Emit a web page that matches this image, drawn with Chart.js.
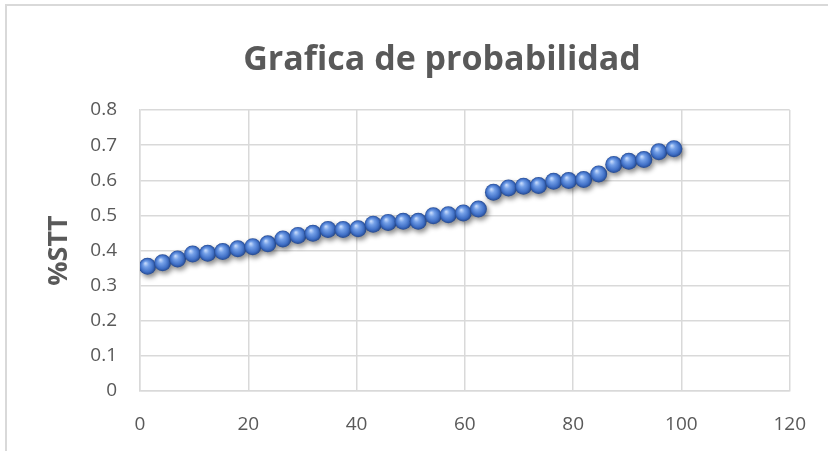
<!DOCTYPE html>
<html>
<head>
<meta charset="utf-8">
<script src="https://cdn.jsdelivr.net/npm/chart.js@4/dist/chart.umd.min.js"></script>
<style>
  html, body { margin: 0; padding: 0; background: #ffffff; }
  #wrap { position: relative; width: 828px; height: 451px; }
</style>
</head>
<body>
<div id="wrap"><canvas id="chart" width="828" height="451"></canvas></div>
<script>
// Plotting positions (%) and measured %STT values
const percentiles = [1.39, 4.17, 6.94, 9.72, 12.50, 15.28, 18.06, 20.83, 23.61, 26.39,
                     29.17, 31.94, 34.72, 37.50, 40.28, 43.06, 45.83, 48.61, 51.39, 54.17,
                     56.94, 59.72, 62.50, 65.28, 68.06, 70.83, 73.61, 76.39, 79.17, 81.94,
                     84.72, 87.50, 90.28, 93.06, 95.83, 98.61];
const sttValues = [0.355, 0.365, 0.376, 0.390, 0.392, 0.397, 0.405, 0.411, 0.419, 0.433,
                   0.443, 0.449, 0.460, 0.460, 0.462, 0.475, 0.480, 0.483, 0.483, 0.499,
                   0.502, 0.507, 0.518, 0.566, 0.578, 0.583, 0.585, 0.597, 0.599, 0.602,
                   0.618, 0.645, 0.654, 0.659, 0.681, 0.690];
const xTicks = [0, 20, 40, 60, 80, 100, 120];
const yTicks = [0, 0.1, 0.2, 0.3, 0.4, 0.5, 0.6, 0.7, 0.8];

const titleText = 'Grafica de probabilidad';
const yTitleText = '%STT';
const FONT = '"Open Sans", Lato, sans-serif';
const TEXT = '#595959';
const GRID = '#d9d9d9';

const points = percentiles.map((p, i) => ({ x: p, y: sttValues[i] }));

// Shaded sphere fill for each marker
function sphereFill(ctx) {
  if (ctx.type !== 'data' || !ctx.parsed) return '#4472c4';
  const chart = ctx.chart;
  const sx = chart.scales.x, sy = chart.scales.y;
  if (!sx || !sy) return '#4472c4';
  const cx = sx.getPixelForValue(ctx.parsed.x);
  const cy = sy.getPixelForValue(ctx.parsed.y);
  if (!isFinite(cx) || !isFinite(cy)) return '#4472c4';
  const r = 8.5;
  const g = chart.ctx.createRadialGradient(cx - r * 0.25, cy - r * 0.35, 0.5, cx, cy, r);
  g.addColorStop(0, '#c0d6fa');
  g.addColorStop(0.3, '#74a0e8');
  g.addColorStop(0.75, '#3f6fc6');
  g.addColorStop(1, '#25498f');
  return g;
}

const decor = {
  id: 'decor',
  beforeDraw(chart) {
    const c = chart.ctx;
    c.save();
    c.fillStyle = '#ffffff';
    c.fillRect(0, 0, chart.width, chart.height);
    c.strokeStyle = GRID;
    c.lineWidth = 2;
    c.beginPath();
    c.moveTo(6, chart.height);
    c.lineTo(6, 5);
    c.lineTo(chart.width, 5);
    c.stroke();
    c.restore();
  },
  afterDraw(chart) {
    const c = chart.ctx;
    c.save();
    c.fillStyle = TEXT;
    c.font = 'bold 34px ' + FONT;
    c.textAlign = 'center';
    c.textBaseline = 'alphabetic';
    c.fillText(titleText, 442, 70);
    c.restore();
  },
  beforeDatasetsDraw(chart) {
    const c = chart.ctx;
    c.save();
    c.shadowColor = 'rgba(0,0,0,0.45)';
    c.shadowBlur = 5;
    c.shadowOffsetX = 2;
    c.shadowOffsetY = 3;
  },
  afterDatasetsDraw(chart) {
    chart.ctx.restore();
  }
};

new Chart(document.getElementById('chart'), {
  type: 'scatter',
  data: {
    datasets: [{
      data: points,
      pointRadius: 8.5,
      pointHoverRadius: 8.5,
      pointBorderWidth: 0,
      borderWidth: 0,
      backgroundColor: sphereFill,
      pointBackgroundColor: sphereFill
    }]
  },
  plugins: [decor],
  options: {
    responsive: false,
    animation: false,
    devicePixelRatio: 1,
    layout: { padding: { left: 0, right: 29, top: 110, bottom: 0 } },
    plugins: {
      legend: { display: false },
      tooltip: { enabled: false },
      title: { display: false }
    },
    scales: {
      x: {
        type: 'linear',
        min: 0, max: 120,
        afterBuildTicks(scale) { scale.ticks = xTicks.map(v => ({ value: v })); },
        afterFit(scale) { scale.height = 60; },
        grid: { color: GRID, lineWidth: 1.5, drawTicks: false },
        border: { color: GRID, width: 1.5 },
        ticks: { color: TEXT, font: { family: FONT, size: 19 }, padding: 22, maxRotation: 0 }
      },
      y: {
        type: 'linear',
        min: 0, max: 0.8,
        afterBuildTicks(scale) { scale.ticks = yTicks.map(v => ({ value: v })); },
        afterFit(scale) { scale.width = 140; },
        grid: { color: GRID, lineWidth: 1.5, drawTicks: false },
        border: { color: GRID, width: 1.5 },
        ticks: {
          color: TEXT, font: { family: FONT, size: 19 }, padding: 23,
          callback: v => String(Math.round(v * 10) / 10)
        },
        title: {
          display: true, text: yTitleText, color: TEXT,
          font: { family: FONT, size: 27, weight: 'bold' },
          padding: { top: 43, bottom: 0 }
        }
      }
    }
  }
});
</script>
</body>
</html>
